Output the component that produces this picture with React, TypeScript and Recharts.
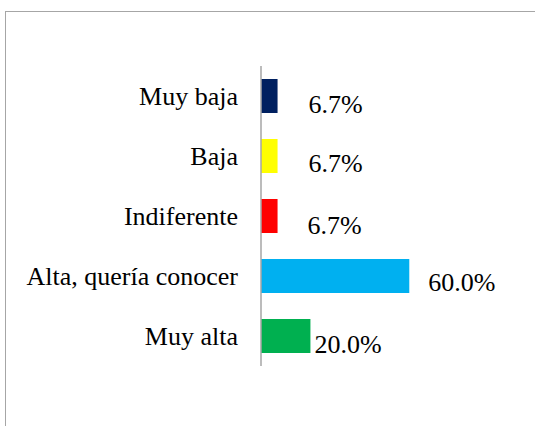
import { BarChart, Bar, XAxis, YAxis, Cell, LabelList } from "recharts";

const categories = ["Muy baja", "Baja", "Indiferente", "Alta, quería conocer", "Muy alta"];
const values = [6.7, 6.7, 6.7, 60.0, 20.0];
const colors = ["#002060", "#FFFF00", "#FF0000", "#00B0F0", "#00B050"];

// manual label nudges (dx, dy) as in the original sheet
const labelShift = [
  [31, 8],
  [31, 7],
  [30, 9],
  [19, 6],
  [4, 8],
];

const data = categories.map((name, i) => ({ name, value: values[i] }));

const font = "Liberation Serif, DejaVu Serif, serif";

function ValueLabel(props: any) {
  const { x, y, width, height, value, index } = props;
  const [dx, dy] = labelShift[index] || [5, 0];
  return (
    <text
      x={x + width + dx}
      y={y + height / 2 + dy}
      style={{ fontFamily: font, fontSize: 26 }}
      fill="#000"
      textAnchor="start"
      dominantBaseline="central"
    >
      {Number(value).toFixed(1)}%
    </text>
  );
}

export default function App() {
  return (
    <div style={{ position: "absolute", left: 0, top: 0, width: 535, height: 426, overflow: "hidden", background: "#fff", fontFamily: font }}>
      <div
        style={{
          position: "absolute",
          left: 5,
          top: 11,
          width: 600,
          height: 500,
          borderLeft: "1.5px solid #A6A6A6",
          borderTop: "1.5px solid #A6A6A6",
        }}
      />
      <div style={{ position: "absolute", left: 0, top: 0 }}>
        <BarChart
          width={535}
          height={426}
          data={data}
          layout="vertical"
          margin={{ top: 66, right: 101, bottom: 60, left: 0 }}
          barCategoryGap={13}
          style={{ fontFamily: font }}
        >
          <XAxis type="number" domain={[0, 70]} hide />
          <YAxis
            type="category"
            dataKey="name"
            width={261}
            axisLine={{ stroke: "#A6A6A6", strokeWidth: 1.5 }}
            tickLine={false}
            tickSize={0}
            tickMargin={23}
            tick={{ fontSize: 26, fill: "#000", style: { fontFamily: font } }}
            interval={0}
          />
          <Bar dataKey="value" isAnimationActive={false}>
            {data.map((d, i) => (
              <Cell key={d.name} fill={colors[i]} />
            ))}
            <LabelList dataKey="value" content={<ValueLabel />} />
          </Bar>
        </BarChart>
      </div>
    </div>
  );
}
